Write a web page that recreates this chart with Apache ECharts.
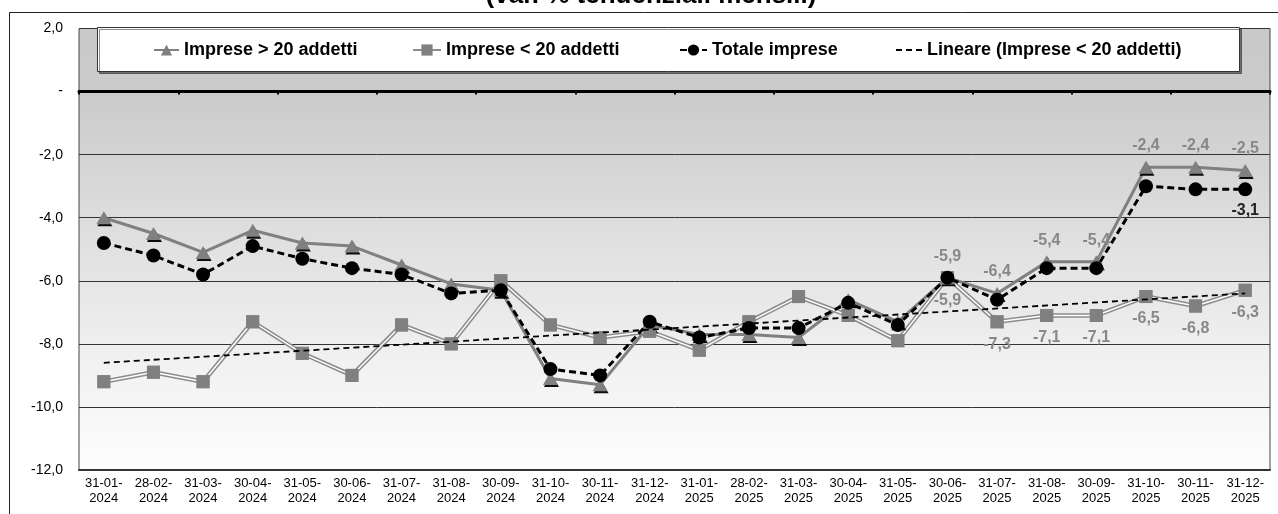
<!DOCTYPE html>
<html>
<head>
<meta charset="utf-8">
<script src="https://cdn.jsdelivr.net/npm/echarts@6/dist/echarts.min.js"></script>
<style>
html,body{margin:0;padding:0;background:#fff;}
#c{width:1278px;height:514px;}
</style>
</head>
<body>
<div id="c"></div>
<script>
const categories = ['31-01-2024','28-02-2024','31-03-2024','30-04-2024','31-05-2024','30-06-2024','31-07-2024','31-08-2024','30-09-2024','31-10-2024','30-11-2024','31-12-2024','31-01-2025','28-02-2025','31-03-2025','30-04-2025','31-05-2025','30-06-2025','31-07-2025','31-08-2025','30-09-2025','31-10-2025','30-11-2025','31-12-2025'];
const impreseOver20 = [-4.0,-4.5,-5.1,-4.4,-4.8,-4.9,-5.5,-6.1,-6.3,-9.1,-9.3,-7.4,-7.7,-7.7,-7.8,-6.6,-7.3,-5.9,-6.4,-5.4,-5.4,-2.4,-2.4,-2.5];
const impreseUnder20 = [-9.2,-8.9,-9.2,-7.3,-8.3,-9.0,-7.4,-8.0,-6.0,-7.4,-7.8,-7.6,-8.2,-7.3,-6.5,-7.1,-7.9,-5.9,-7.3,-7.1,-7.1,-6.5,-6.8,-6.3];
const totaleImprese = [-4.8,-5.2,-5.8,-4.9,-5.3,-5.6,-5.8,-6.4,-6.3,-8.8,-9.0,-7.3,-7.8,-7.5,-7.5,-6.7,-7.4,-5.9,-6.6,-5.6,-5.6,-3.0,-3.1,-3.1];
const trendStart = -8.6;   // linear trend of "Imprese < 20 addetti" at first category
const trendEnd = -6.4;     // at last category
const labelFrom = 17;      // first labelled point (30-06-2025)
const yTicks = {min: -12, max: 2, interval: 2};
const names = ['Imprese > 20 addetti','Imprese < 20 addetti','Totale imprese','Lineare (Imprese < 20 addetti)'];

const FONT = 'Liberation Sans, Arial, sans-serif';
const fmt = v => v.toFixed(1).replace('.', ',');
const lbl = (from) => (p) => p.dataIndex >= from ? fmt(p.value) : '';

const chart = echarts.init(document.getElementById('c'), null, {renderer: 'canvas'});
const legendBase = {orient: 'horizontal', top: 41, itemHeight: 14, padding: 0, z: 6,
  textStyle: {fontFamily: FONT, fontWeight: 'bold', fontSize: 18, color: '#000'}};

chart.setOption({
  animation: false,
  backgroundColor: '#fff',
  graphic: [
    {type: 'rect', z: 0, shape: {x: 9.5, y: 12.5, width: 1400, height: 700},
      style: {fill: 'none', stroke: '#222', lineWidth: 1}},
    {type: 'rect', z: 5, shape: {x: 97.5, y: 27.5, width: 1142, height: 44},
      style: {fill: '#fff', stroke: '#333', lineWidth: 1, shadowColor: 'rgba(0,0,0,0.45)', shadowOffsetX: 2, shadowOffsetY: 2, shadowBlur: 0}},
    {type: 'text', z: 5, x: 651, y: 9,
      style: {text: '(var. % tendenziali mensili)', font: 'bold 26px ' + FONT, fill: '#000', textAlign: 'center', textVerticalAlign: 'bottom'}}
  ],
  legend: [
    Object.assign({}, legendBase, {left: 153, itemWidth: 25, data: [names[0]]}),
    Object.assign({}, legendBase, {left: 412, itemWidth: 28, data: [names[1]]}),
    Object.assign({}, legendBase, {left: 679, itemWidth: 27, data: [names[2]]}),
    Object.assign({}, legendBase, {left: 895, itemWidth: 26, data: [names[3]]})
  ],
  grid: {left: 79, right: 8, top: 28.5, bottom: 44, show: true,
    borderColor: '#444', borderWidth: 1,
    backgroundColor: {type: 'linear', x: 0, y: 0, x2: 0, y2: 1, colorStops: [
      {offset: 0, color: '#c9c9c9'}, {offset: 0.15, color: '#cbcbcb'}, {offset: 0.45, color: '#dedede'},
      {offset: 0.75, color: '#f1f1f1'}, {offset: 1, color: '#fdfdfd'}]}},
  xAxis: [
    {type: 'category', data: categories, boundaryGap: true,
      axisLine: {show: true, onZero: false, lineStyle: {color: '#333', width: 2}},
      axisTick: {show: false},
      axisLabel: {interval: 0, margin: 6, fontFamily: 'Liberation Sans Narrow, Arial Narrow, ' + FONT, fontSize: 13,
        lineHeight: 15, color: '#000', formatter: v => v.slice(0, 6) + '\n' + v.slice(6)},
      splitLine: {show: false}},
    {type: 'category', data: categories, boundaryGap: true, position: 'bottom',
      axisLine: {show: true, onZero: true, onZeroAxisIndex: 0, lineStyle: {color: '#000', width: 3}},
      axisTick: {show: true, length: 3, lineStyle: {color: '#000', width: 2}},
      axisLabel: {show: false}, splitLine: {show: false}}
  ],
  yAxis: {type: 'value', min: yTicks.min, max: yTicks.max, interval: yTicks.interval,
    axisLine: {show: false}, axisTick: {show: false},
    axisLabel: {margin: 16, fontFamily: FONT, fontSize: 14, color: '#000',
      formatter: v => v === 0 ? '-' : fmt(v)},
    splitLine: {show: true, lineStyle: {color: '#333', width: 1}}},
  series: [
    {name: names[0], type: 'line', data: impreseOver20, z: 3, showAllSymbol: true,
      symbol: 'triangle', symbolSize: [15, 13],
      lineStyle: {color: '#808080', width: 3},
      itemStyle: {color: '#808080', shadowColor: 'rgba(0,0,0,0.95)', shadowOffsetX: 1, shadowOffsetY: 2, shadowBlur: 0},
      label: {show: true, position: 'top', distance: 7, color: '#888', fontFamily: FONT, fontWeight: 'bold', fontSize: 16,
        formatter: lbl(labelFrom)}},
    {name: names[1], type: 'line', data: impreseUnder20, z: 3, showAllSymbol: true,
      symbol: 'rect', symbolSize: 13,
      lineStyle: {color: '#8c8c8c', width: 4.5},
      itemStyle: {color: '#808080'}},
    {name: 'u20-inner', type: 'line', data: impreseUnder20, z: 3, symbol: 'none', silent: true,
      lineStyle: {color: '#fff', width: 1.4}},
    {name: 'u20-marks', type: 'line', data: impreseUnder20, z: 3, showAllSymbol: true, silent: true,
      symbol: 'rect', symbolSize: 13,
      lineStyle: {width: 0, opacity: 0},
      itemStyle: {color: '#808080'},
      label: {show: true, position: 'bottom', distance: 8, color: '#888', fontFamily: FONT, fontWeight: 'bold', fontSize: 16,
        formatter: lbl(labelFrom)}},
    {name: names[2], type: 'line', data: totaleImprese, z: 4, showAllSymbol: true,
      symbol: 'circle', symbolSize: 14,
      lineStyle: {color: '#000', width: 3, type: [7, 4]},
      itemStyle: {color: '#000'},
      label: {show: true, position: 'bottom', distance: 6, color: '#222', fontFamily: FONT, fontWeight: 'bold', fontSize: 16,
        formatter: lbl(categories.length - 1)}},
    {name: names[3], type: 'line', z: 5, symbol: 'none',
      data: [[categories[0], trendStart], [categories[categories.length - 1], trendEnd]],
      itemStyle: {color: 'rgba(0,0,0,0)'},
      lineStyle: {color: '#000', width: 1.8, type: [6, 4]}}
  ]
});
</script>
</body>
</html>
